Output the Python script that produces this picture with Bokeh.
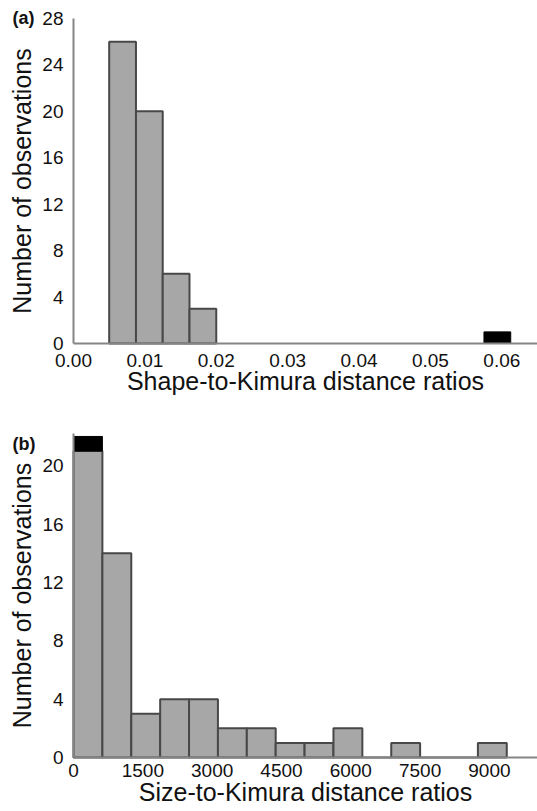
from bokeh.plotting import figure
from bokeh.layouts import column
from bokeh.models import Range1d, FixedTicker, Label, NumeralTickFormatter
from bokeh.embed import file_html
from bokeh.resources import INLINE

# ---- data: panel (a) shape-to-Kimura ratios ----
a_bin_left = [0.005, 0.00875, 0.0125, 0.01625]
a_counts = [26, 20, 6, 3]
a_bin_width = 0.00375
a_out_left = [0.0575]
a_out_counts = [1]
a_xticks = [0.0, 0.01, 0.02, 0.03, 0.04, 0.05, 0.06]
a_yticks = [0, 4, 8, 12, 16, 20, 24, 28]

# ---- data: panel (b) size-to-Kimura ratios ----
b_bin_left = [0, 625, 1250, 1875, 2500, 3125, 3750, 4375, 5000, 5625, 6250, 6875, 7500, 8125, 8750]
b_counts = [21, 14, 3, 4, 4, 2, 2, 1, 1, 2, 0, 1, 0, 0, 1]
b_bin_width = 625
b_out_left = [0]
b_out_base = [21]
b_out_counts = [1]
b_xticks = [0, 1500, 3000, 4500, 6000, 7500, 9000]
b_yticks = [0, 4, 8, 12, 16, 20]

FONT = "Liberation Sans"
FILL = "#a7a7a7"
EDGE = "#484848"
AXIS = "#858585"


def style(p, xticks, yticks, xlabel, xmax, ymax):
    p.xaxis.axis_label = xlabel
    p.yaxis.axis_label = "Number of observations"
    for ax in (p.xaxis[0], p.yaxis[0]):
        ax.axis_line_color = AXIS
        ax.axis_line_width = 2
        ax.major_tick_line_color = None
        ax.minor_tick_line_color = None
        ax.major_tick_in = 0
        ax.major_tick_out = 0
        ax.major_label_text_font = FONT
        ax.major_label_text_font_size = "19px"
        ax.major_label_text_color = "#111111"
        ax.axis_label_text_font = FONT
        ax.axis_label_text_font_size = "25px"
        ax.axis_label_text_font_style = "normal"
        ax.axis_label_text_color = "#111111"
        ax.fixed_location = 0
    p.xaxis.ticker = FixedTicker(ticks=xticks)
    p.yaxis.ticker = FixedTicker(ticks=yticks)
    p.xaxis.bounds = (0, xmax)
    p.yaxis.bounds = (0, ymax)
    p.yaxis.major_label_standoff = 10
    p.yaxis.axis_label_standoff = 3
    p.xaxis.major_label_standoff = 6
    p.xaxis.axis_label_standoff = -2
    p.xgrid.visible = False
    p.ygrid.visible = False
    p.outline_line_color = None
    p.background_fill_color = "white"
    p.border_fill_color = "white"


# ---- panel (a) ----
p1 = figure(width=537, height=404, output_backend="svg", toolbar_location=None,
            x_range=Range1d(-0.010226, 0.065), y_range=Range1d(-5.255, 29.55),
            min_border_left=0, min_border_right=0, min_border_top=0, min_border_bottom=0)
p1.quad(left=a_bin_left, right=[v + a_bin_width for v in a_bin_left], bottom=0, top=a_counts,
        fill_color=FILL, line_color=EDGE, line_width=2)
p1.quad(left=a_out_left, right=[v + a_bin_width for v in a_out_left], bottom=0, top=a_out_counts,
        fill_color="black", line_color="black", line_width=1)
style(p1, a_xticks, a_yticks, "Shape-to-Kimura distance ratios", 0.065, 28)
p1.xaxis.formatter = NumeralTickFormatter(format="0.00")
p1.xaxis.major_label_standoff = 10
p1.xaxis.axis_label_standoff = -3
p1.add_layout(Label(x=-0.00855, y=28, text="(a)",
                    text_font=FONT, text_font_size="18px", text_font_style="bold",
                    text_baseline="middle", text_align="left", text_color="#111111"))

# ---- panel (b) ----
p2 = figure(width=537, height=407, output_backend="svg", toolbar_location=None,
            x_range=Range1d(-1580, 10040), y_range=Range1d(-3.70, 24.19),
            min_border_left=0, min_border_right=0, min_border_top=0, min_border_bottom=0)
p2.quad(left=b_bin_left, right=[v + b_bin_width for v in b_bin_left], bottom=0, top=b_counts,
        fill_color=FILL, line_color=EDGE, line_width=2)
p2.quad(left=b_out_left, right=[v + b_bin_width for v in b_out_left], bottom=b_out_base,
        top=[b + c for b, c in zip(b_out_base, b_out_counts)],
        fill_color="black", line_color="black", line_width=1)
style(p2, b_xticks, b_yticks, "Size-to-Kimura distance ratios", 10040, 22.2)
p2.add_layout(Label(x=-1320, y=21.5, text="(b)",
                    text_font=FONT, text_font_size="18px", text_font_style="bold",
                    text_baseline="middle", text_align="left", text_color="#111111"))

layout = column(p1, p2, spacing=0)
open("out.html", "w").write(file_html(layout, INLINE))
